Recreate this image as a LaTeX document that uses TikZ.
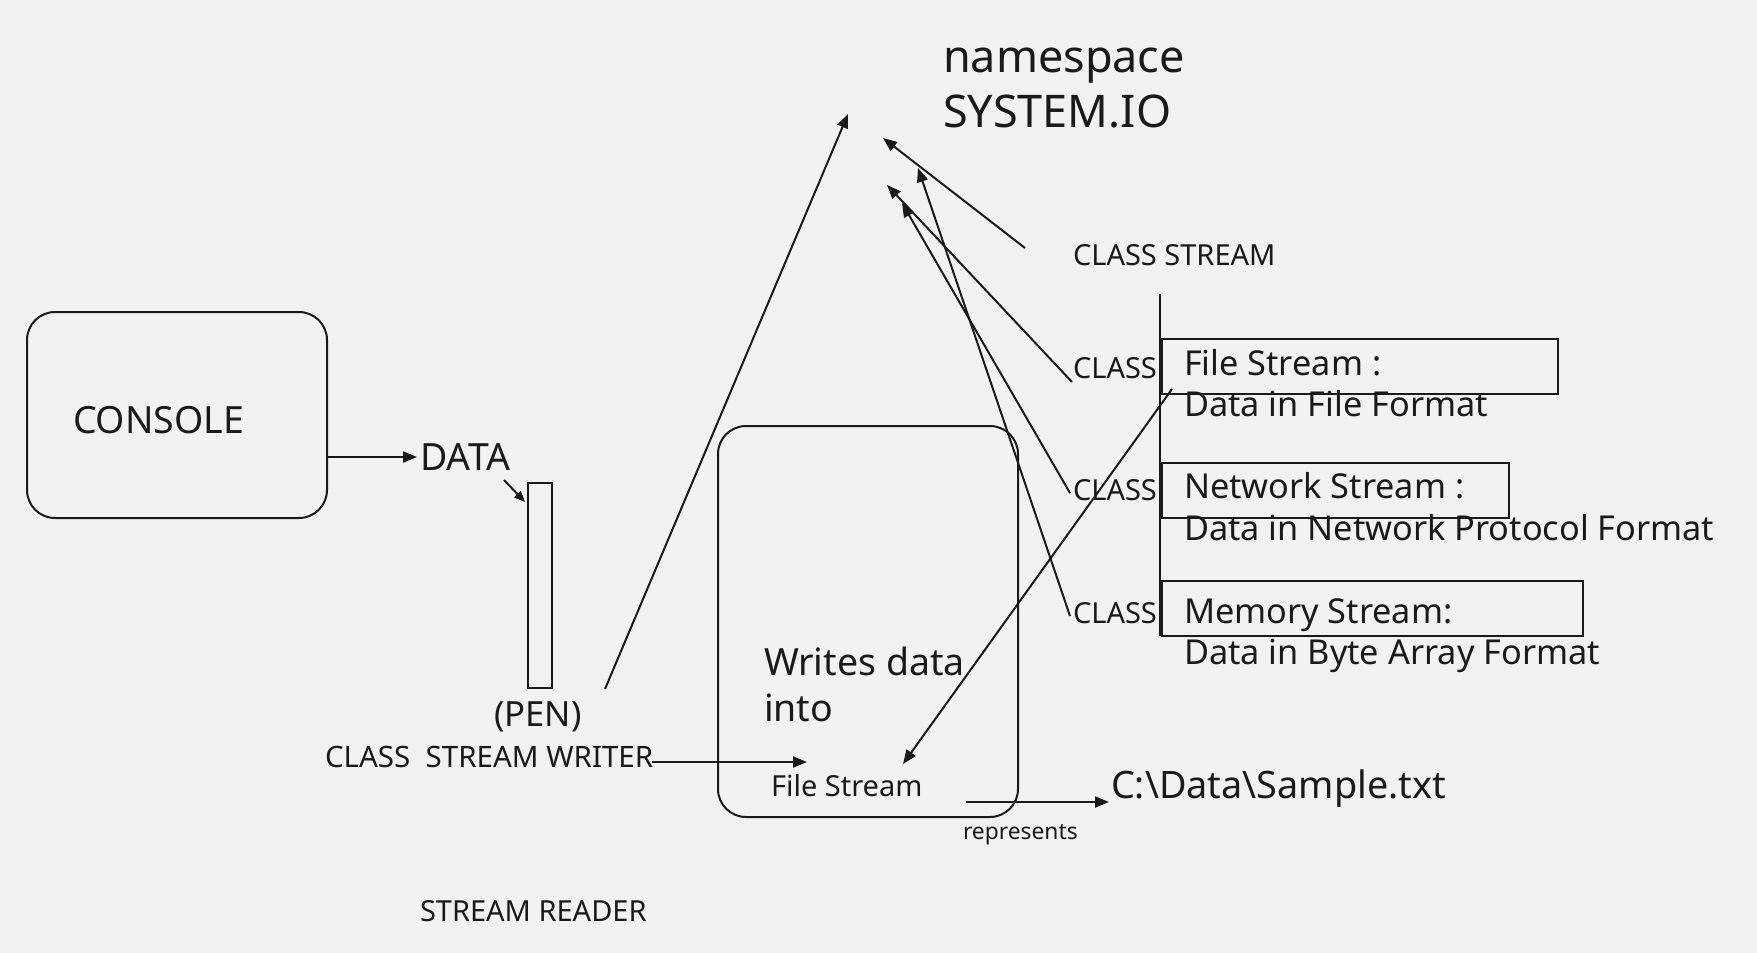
\documentclass[tikz,border=0pt]{standalone}
\usepackage{fontspec}
\setmainfont{Noto Sans}
\usetikzlibrary{arrows.meta}
\definecolor{bg}{HTML}{F2F2F2}
\definecolor{ink}{HTML}{1A1A1A}
\begin{document}
\begin{tikzpicture}[x=1pt,y=-1pt,line width=2pt,draw=ink,
  arr/.style={-{Triangle[length=14pt,width=11pt]}},
  smallarr/.style={-{Triangle[length=11pt,width=9pt]}},
  txt/.style={anchor=base west,inner sep=0pt,text=ink},
  fxl/.style={font=\fontsize{45}{54}\selectfont},
  fl/.style={font=\fontsize{37.5}{45}\selectfont},
  fm/.style={font=\fontsize{34.3}{41}\selectfont},
  fs/.style={font=\fontsize{29}{35}\selectfont},
  fxs/.style={font=\fontsize{22.8}{27}\selectfont},
  box/.style={draw,anchor=north west,inner sep=0pt},
  rbox/.style={box,rounded corners=28pt}]
\fill[bg] (0,0) rectangle (1757,953);
\useasboundingbox (0,0) rectangle (1757,953);

% shapes
\node[rbox,minimum width=300,minimum height=206] (console) at (26,311) {};
\node[rbox,minimum width=300,minimum height=391] (fsbox) at (717,425) {};
\node[box,minimum width=24,minimum height=205] (pen) at (527,482) {};
\node[box,minimum width=396,minimum height=55] (filebox) at (1161,338) {};
\node[box,minimum width=347,minimum height=55] (netbox) at (1161,462) {};
\node[box,minimum width=421,minimum height=55] (membox) at (1161,580) {};

% texts
\node[txt,fxl] (ns1) at (942,72) {namespace};
\node[txt,fxl] (ns2) at (942,127) {SYSTEM.IO};
\node[txt,fl] (consoletxt) at (72,433) {CONSOLE};
\node[txt,fl] (data) at (419,470) {DATA};
\node[txt,font=\fontsize{34.7}{41}\selectfont] (pentxt) at (493,726) {(PEN)};
\node[txt,font=\fontsize{29.5}{35}\selectfont] (writer) at (324,767) {CLASS\hspace{0.52em}STREAM WRITER};
\node[txt,fl] (writes1) at (763,675) {Writes data};
\node[txt,fl] (writes2) at (763,721) {into};
\node[txt,fs] (fstream) at (770,796) {File Stream};
\node[txt,fxs] (repr) at (962,839) {represents};
\node[txt,font=\fontsize{37.8}{45}\selectfont] (path) at (1110,798) {C:\textbackslash Data\textbackslash Sample.txt};
\node[txt,fs] (reader) at (419,921) {STREAM READER};
\node[txt,fs] (cstream) at (1072,265) {CLASS STREAM};
\node[txt,fs] (cls1) at (1072,378) {CLASS};
\node[txt,fs] (cls2) at (1072,500) {CLASS};
\node[txt,fs] (cls3) at (1072,623) {CLASS};
\node[txt,fm] (f1) at (1183,375) {File Stream :};
\node[txt,fm] (f2) at (1183,416) {Data in File Format};
\node[txt,fm] (n1) at (1183,498) {Network Stream :};
\node[txt,fm] (n2) at (1183,540) {Data in Network Protocol Format};
\node[txt,fm] (m1) at (1183,623) {Memory Stream:};
\node[txt,fm] (m2) at (1183,664) {Data in Byte Array Format};

% connector end points
\coordinate (penTop) at (605,689);
\coordinate (t1) at (848,114);
\coordinate (csS) at (1025,248);
\coordinate (t2) at (883,138);
\coordinate (c1S) at (1072,382);
\coordinate (t3) at (887,185);
\coordinate (c2S) at (1070,493);
\coordinate (t4) at (902,203);
\coordinate (c3S) at (1070,616);
\coordinate (t5) at (918,168);
\coordinate (fbS) at (1172,389);
\coordinate (fsT) at (903,764);
\coordinate (wS) at (652,762);
\coordinate (wT) at (807,762);
\coordinate (rS) at (966,802);
\coordinate (rT) at (1109,802);
\coordinate (dS) at (326,457);
\coordinate (dT) at (417,457);
\coordinate (pS) at (504,480);
\coordinate (pT) at (525,502);
\coordinate (vTop) at (1160,294);
\coordinate (vBot) at (1160,636);

% connectors
\draw[arr] (penTop) -- (t1);
\draw[arr] (csS) -- (t2);
\draw[arr] (c1S) -- (t3);
\draw[arr] (c2S) -- (t4);
\draw[arr] (c3S) -- (t5);
\draw[arr] (fbS) -- (fsT);
\draw[arr] (wS) -- (wT);
\draw[arr] (rS) -- (rT);
\draw[arr] (dS) -- (dT);
\draw[smallarr] (pS) -- (pT);
\draw (vTop) -- (vBot);
\end{tikzpicture}
\end{document}
